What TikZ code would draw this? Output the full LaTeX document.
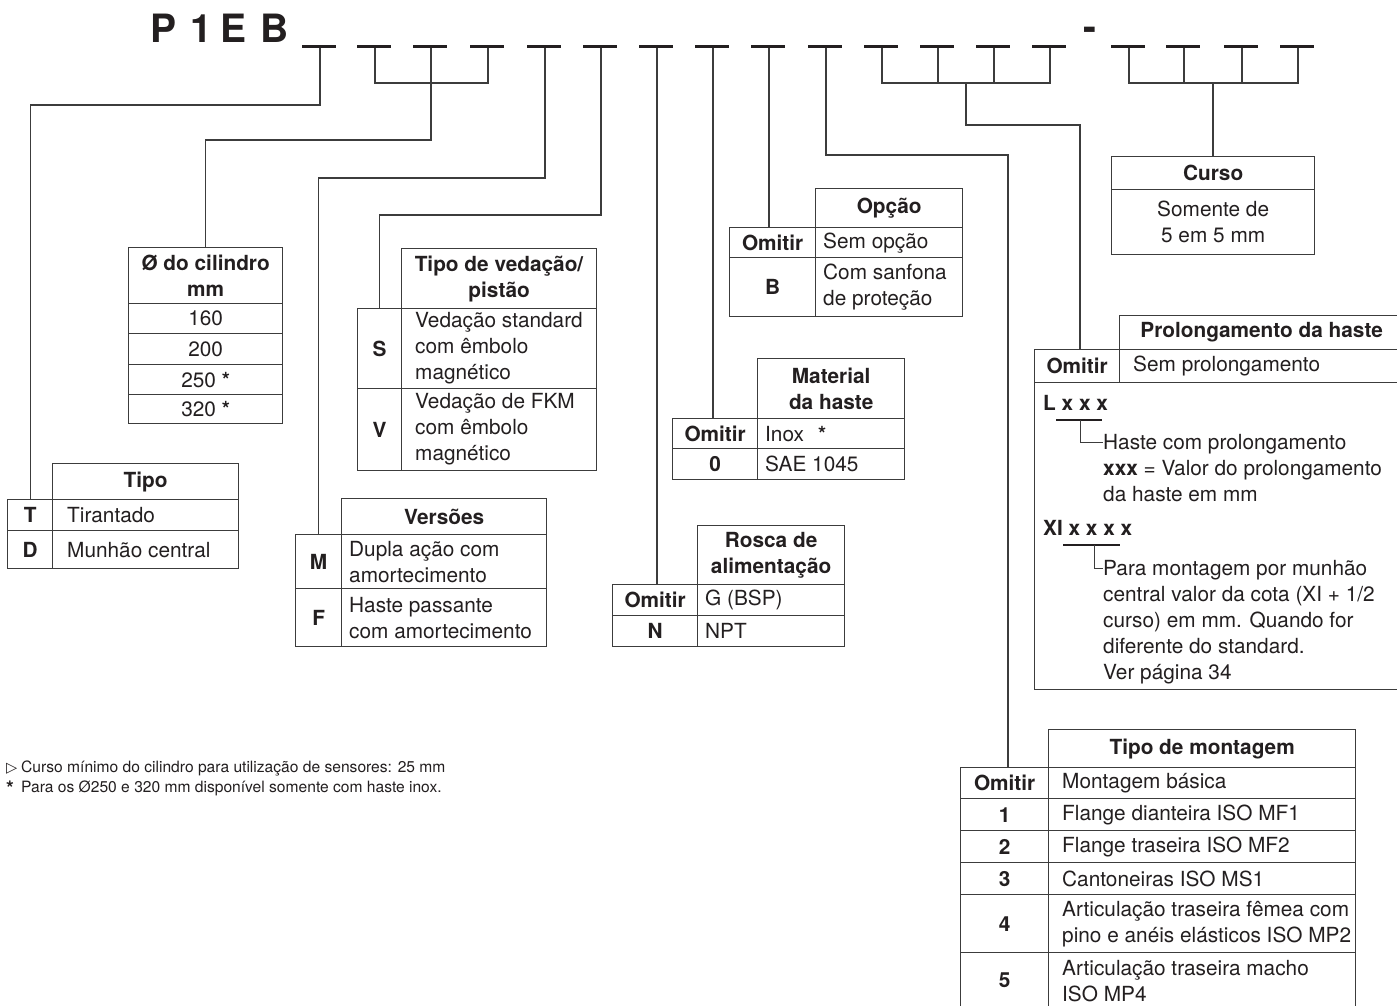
\documentclass[tikz,border=0pt]{standalone}
\usepackage{fontspec}
\setmainfont{TeX Gyre Heros}
\newfontfamily\symf{DejaVu Sans}
\definecolor{ink}{HTML}{231F20}
\definecolor{lin}{HTML}{3C3C3C}
\newcommand\bodyfont{\fontsize{20.8}{26}\selectfont}
\newcommand\mkc[6]{%
  \node[cellbox,minimum width=#4pt,minimum height=#5pt] (#1) at (#2,#3) {};
  \node[txt,align=center] (#1t) at (#1.center) {#6};}
\newcommand\mkl[7]{%
  \node[cellbox,minimum width=#4pt,minimum height=#5pt] (#1) at (#2,#3) {};
  \node[txt,align=left,anchor=west] (#1t) at ([xshift=#6pt]#1.west) {#7};}
\newcommand\mke[5]{\node[cellbox,minimum width=#4pt,minimum height=#5pt] (#1) at (#2,#3) {};}
\tikzset{
  cellbox/.style={draw=lin,line width=1.3pt,anchor=north west,inner sep=0pt,rectangle},
  txt/.style={inner sep=0pt,text=ink,font=\bodyfont},
  conn/.style={draw=lin,line width=1.3pt},
  ulin/.style={draw=ink,line width=2pt},
  codedash/.style={fill=ink,inner sep=0pt,minimum width=34pt,minimum height=3.2pt,rectangle,xshift=-1.5pt},
  big/.style={inner sep=0pt,text=ink,font=\fontsize{39}{39}\selectfont\bfseries,anchor=base},
  note/.style={inner sep=0pt,text=ink,font=\fontsize{15.6}{18}\selectfont,anchor=west},
}
\begin{document}
\begin{tikzpicture}[x=1pt,y=-1pt]
\useasboundingbox (0,0) rectangle (1397,1005);
\fill[white] (0,0) rectangle (1397,1005);

% ---- title ----
\node[big] (p1) at (164,42) {P};
\node[big] (p2) at (201.5,42) {1};
\node[big] (p3) at (233.5,42) {E};
\node[big] (p4) at (275,42) {B};
\node[big] (hy) at (1090,40) {-};

% ---- Tipo ----
\mkc{tipoH}{52}{463}{186}{36}{\textbf{Tipo}}
\mkc{tipoT}{7}{499}{45}{31}{\textbf{T}}
\mkl{tipoTt}{52}{499}{186}{31}{15}{Tirantado}
\mkc{tipoD}{7}{530}{45}{38}{\textbf{D}}
\mkl{tipoDt}{52}{530}{186}{38}{15}{Munhão central}

% ---- Diametro ----
\mkc{dH}{128}{247}{154}{56}{\textbf{Ø do cilindro}\\\textbf{mm}}
\mkc{dA}{128}{303}{154}{30}{160}
\mkc{dB}{128}{333}{154}{31}{200}
\mkc{dC}{128}{364}{154}{30}{250 \textbf{*}}
\mkc{dD}{128}{394}{154}{29}{320 \textbf{*}}

% ---- Vedacao ----
\mkc{vH}{401}{248}{195}{60}{\textbf{Tipo de vedação/}\\\textbf{pistão}}
\mkc{vS}{357}{308}{44}{80}{\textbf{S}}
\mkl{vSt}{401}{308}{195}{80}{14}{Vedação standard\\com êmbolo\\magnético}
\mkc{vV}{357}{388}{44}{82}{\textbf{V}}
\mkl{vVt}{401}{388}{195}{82}{14}{Vedação de FKM\\com êmbolo\\magnético}

% ---- Versoes ----
\mkc{veH}{341}{498}{205}{36}{\textbf{Versões}}
\mkc{veM}{295}{534}{46}{54}{\textbf{M}}
\mkl{veMt}{341}{534}{205}{54}{8}{Dupla ação com\\amortecimento}
\mkc{veF}{295}{588}{46}{58}{\textbf{F}}
\mkl{veFt}{341}{588}{205}{58}{8}{Haste passante\\com amortecimento}

% ---- Opcao ----
\mkc{oH}{815}{188}{147}{39}{\textbf{Opção}}
\mkc{oA}{729}{227}{86}{30}{\textbf{Omitir}}
\mkl{oAt}{815}{227}{147}{30}{8}{Sem opção}
\mkc{oB}{729}{257}{86}{59}{\textbf{B}}
\mkl{oBt}{815}{257}{147}{59}{8}{Com sanfona\\de proteção}

% ---- Material ----
\mkc{mH}{757}{358}{147}{60}{\textbf{Material}\\\textbf{da haste}}
\mkc{mA}{672}{418}{85}{30}{\textbf{Omitir}}
\mkl{mAt}{757}{418}{147}{30}{8}{Inox\hspace{14pt}\textbf{*}}
\mkc{mB}{672}{448}{85}{31}{\textbf{0}}
\mkl{mBt}{757}{448}{147}{31}{8}{SAE 1045}

% ---- Rosca ----
\mkc{rH}{697}{525}{147}{59}{\textbf{Rosca de}\\\textbf{alimentação}}
\mkc{rA}{612}{584}{85}{31}{\textbf{Omitir}}
\mkl{rAt}{697}{584}{147}{31}{8}{G (BSP)}
\mkc{rB}{612}{615}{85}{31}{\textbf{N}}
\mkl{rBt}{697}{615}{147}{31}{8}{NPT}

% ---- Curso ----
\mkc{cH}{1111}{156}{203}{33}{\textbf{Curso}}
\mkc{cB}{1111}{189}{203}{65}{Somente de\\5 em 5 mm}

% ---- Prolongamento ----
\mkc{pH}{1119}{315}{284}{34}{\textbf{Prolongamento da haste}}
\mkc{pA}{1034}{349}{85}{33}{\textbf{Omitir}}
\mkl{pAt}{1119}{349}{284}{33}{14}{Sem prolongamento}
\mke{pB}{1034}{382}{369}{307}
\node[txt,anchor=west] (pL) at (1043,403) {\textbf{L x x x}};
\coordinate (uL1) at (1056,420);
\coordinate (uL2) at (1102,420);
\coordinate (bL) at (1080,420);
\draw[ulin] (uL1) -- (uL2);
\node[txt,anchor=north west,align=left] (pLt) at (1103,434.5) {Haste com prolongamento\\\textbf{xxx} = Valor do prolongamento\\da haste em mm};
\draw[conn,line width=1pt] (bL) |- ([yshift=-7.5pt]pLt.north west);
\node[txt,anchor=west] (pX) at (1043,528) {\textbf{XI x x x x}};
\coordinate (uX1) at (1063,545);
\coordinate (uX2) at (1120,545);
\coordinate (bX) at (1094,545);
\draw[ulin] (uX1) -- (uX2);
\node[txt,anchor=north west,align=left] (pXt) at (1103,560.5) {Para montagem por munhão\\central valor da cota (XI + 1/2\\curso) em mm. Quando for\\diferente do standard.\\Ver página 34};
\draw[conn,line width=1pt] (bX) |- ([yshift=-7.5pt]pXt.north west);

% ---- Tipo de montagem ----
\mkc{tmH}{1048}{729}{307}{38}{\textbf{Tipo de montagem}}
\mkc{tA}{960}{767}{88}{31}{\textbf{Omitir}}
\mkl{tAt}{1048}{767}{307}{31}{14}{Montagem básica}
\mkc{tB}{960}{798}{88}{32}{\textbf{1}}
\mkl{tBt}{1048}{798}{307}{32}{14}{Flange dianteira ISO MF1}
\mkc{tC}{960}{830}{88}{32}{\textbf{2}}
\mkl{tCt}{1048}{830}{307}{32}{14}{Flange traseira ISO MF2}
\mkc{tD}{960}{862}{88}{32}{\textbf{3}}
\mkl{tDt}{1048}{862}{307}{32}{14}{Cantoneiras ISO MS1}
\mkc{tE}{960}{894}{88}{58}{\textbf{4}}
\mkl{tEt}{1048}{894}{307}{58}{14}{Articulação traseira fêmea com\\pino e anéis elásticos ISO MP2}
\mkc{tF}{960}{952}{88}{56}{\textbf{5}}
\mkl{tFt}{1048}{952}{307}{56}{14}{Articulação traseira macho\\ISO MP4}

% ---- code dashes ----
\foreach \n/\x in {1/320,2/375,3/431,4/488,5/545,6/601,7/657,8/713,9/769,10/826,11/882,12/938,13/994,14/1050,15/1129,16/1184,17/1242,18/1298}
  \coordinate (c\n) at (\x,46.5);

% ---- connectors ----
\draw[conn] (c1) -- (c1 |- 0,105) -| (tipoT.north);
\draw[conn] (c2) -- (c2 |- 0,83) -- (c4 |- 0,83) -- (c4);
\draw[conn] (c3) -- (c3 |- 0,140) -| (dH.north);
\draw[conn] (c5) -- (c5 |- 0,178) -| (veM.north);
\draw[conn] (c6) -- (c6 |- 0,215) -| (vS.north);
\draw[conn] (c7) -- (c7 |- rA.north);
\draw[conn] (c8) -- (c8 |- mA.north);
\draw[conn] (c9) -- (c9 |- oA.north);
\coordinate (j10) at (1008,155);
\draw[conn] (c10) |- (j10) -- (j10 |- tA.north);
\draw[conn] (c11) -- (c11 |- 0,83) -- (c14 |- 0,83) -- (c14);
\draw[conn] (c12) -- (c12 |- 0,83);
\draw[conn] (c13) -- (c13 |- 0,83);
\coordinate (j11) at (966,83);
\coordinate (j11b) at (1080,125);
\draw[conn] (j11) |- (j11b) -- (j11b |- pA.north);
\draw[conn] (c15) -- (c15 |- 0,83) -- (c18 |- 0,83) -- (c18);
\draw[conn] (c16) -- (c16 |- 0,83);
\draw[conn] (c17) -- (c17 |- 0,83);
\coordinate (j15) at (1213,83);
\draw[conn] (j15) -- (j15 |- cH.north);

\foreach \n in {1,...,18}
  \node[codedash] (k\n) at (c\n) {};

% ---- notes ----
\node[note] (n1) at (6,768) {\makebox[15pt][l]{\symf\fontsize{14.5}{14}\selectfont ▷}Curso mínimo do cilindro para utilização de sensores: 25 mm};
\node[note] (n2) at (6,788.5) {\makebox[15pt][l]{\fontsize{20}{18}\selectfont\bfseries\raisebox{-3pt}{*}}Para os Ø250 e 320 mm disponível somente com haste inox.};
\end{tikzpicture}
\end{document}
